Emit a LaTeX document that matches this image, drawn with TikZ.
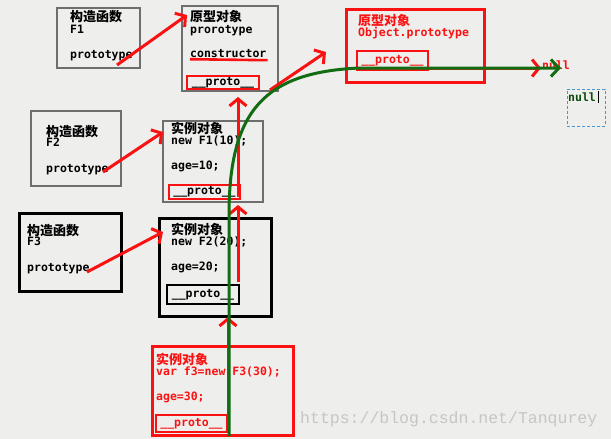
\documentclass[tikz,border=0pt]{standalone}
\usepackage{fontspec}
\setmonofont{DejaVu Sans Mono}
\newfontfamily\cjk{Noto Sans CJK SC}
\newfontfamily\wmfont{Liberation Mono}
\usetikzlibrary{arrows.meta}
\definecolor{bg}{RGB}{238,238,236}
\definecolor{gline}{RGB}{18,108,18}
\definecolor{rline}{RGB}{250,18,18}
\definecolor{wm}{RGB}{198,198,196}
\definecolor{nblue}{RGB}{70,150,215}
\definecolor{gframe}{RGB}{110,110,110}
\tikzset{
  bx/.style n args={2}{anchor=north west, minimum width=#1pt, minimum height=#2pt, inner sep=0pt, outer sep=0pt},
  gbox/.style={draw=gframe, line width=1.3pt},
  kbox/.style={draw=black, line width=3pt},
  rbox/.style={draw=rline, line width=3pt},
  pbox/.style={draw=rline, line width=2.6pt},
  txt/.style={anchor=mid west, inner sep=0pt, font=\ttfamily\bfseries\fontsize{11.5}{12}\selectfont},
  zh/.style={anchor=west, inner sep=0pt, font=\cjk\bfseries\fontsize{13}{14}\selectfont},
  rarr/.style={draw=rline, line width=3pt, -{Straight Barb[length=7pt,width=17pt]}},
  garr/.style={draw=gline, line width=3pt, -{Straight Barb[length=8pt,width=17pt]}}
}
\begin{document}
\begin{tikzpicture}[x=1pt,y=-1pt]
\fill[bg] (0,0) rectangle (611,439);
\useasboundingbox (0,0) rectangle (611,439);

% ---------- boxes ----------
\node[bx={83}{60}, gbox] (c1) at (57,8) {};
\node[bx={96}{85}, gbox] (p1) at (182,6) {};
\node[bx={90}{75}, gbox] (c2) at (31,111) {};
\node[bx={100}{81}, gbox] (i1) at (163,121) {};
\node[bx={102}{78}, kbox] (c3) at (19,213) {};
\node[bx={112}{98}, kbox] (i2) at (159,218) {};
\node[bx={141}{89}, rbox] (i3) at (152,346) {};
\node[bx={138}{73}, rbox] (op) at (346,9) {};
\node[bx={38}{37}, draw=nblue, densely dashed, line width=1pt] (nb) at (567,89) {};

% proto boxes
\node[bx={72}{13}, pbox] (pp1) at (187,76) {};
\node[bx={71}{14}, pbox] (ip1) at (169,185) {};
\node[bx={72}{19}, draw=black, line width=2.6pt] (ip2) at (167,285) {};
\node[bx={71}{17}, pbox] (ip3) at (156,415) {};
\node[bx={71}{19}, pbox] (opp) at (357,51) {};

% ---------- texts ----------
% F1
\node[zh] (c1a) at (70,17) {构造函数};
\node[txt] (c1b) at (70,31) {F1};
\node[txt] (c1c) at (70,56) {prototype};
% prototype object of F1
\node[zh] (p1a) at (190,17) {原型对象};
\node[txt] (p1b) at (190,31) {prorotype};
\node[txt] (p1c) at (190,55) {constructor};
\node[txt, anchor=center] (p1d) at (pp1.center) {\_\_proto\_\_};
% F2
\node[zh] (c2a) at (46,132) {构造函数};
\node[txt] (c2b) at (46,144) {F2};
\node[txt] (c2c) at (46,170) {prototype};
% instance F1
\node[zh] (i1a) at (171,128) {实例对象};
\node[txt] (i1b) at (171,142) {new F1(10);};
\node[txt] (i1c) at (171,167) {age=10;};
\node[txt, anchor=center] (i1d) at (ip1.center) {\_\_proto\_\_};
% F3
\node[zh] (c3a) at (27,231) {构造函数};
\node[txt] (c3b) at (27,243) {F3};
\node[txt] (c3c) at (27,269) {prototype};
% instance F2
\node[zh] (i2a) at (171,229) {实例对象};
\node[txt] (i2b) at (171,243) {new F2(20);};
\node[txt] (i2c) at (171,268) {age=20;};
\node[txt, anchor=center] (i2d) at (ip2.center) {\_\_proto\_\_};
% instance f3
\node[zh, text=rline] (i3a) at (156,359) {实例对象};
\node[txt, text=rline] (i3b) at (156,373) {var f3=new F3(30);};
\node[txt, text=rline] (i3c) at (156,398) {age=30;};
\node[txt, text=rline, anchor=center] (i3d) at (ip3.center) {\_\_proto\_\_};
% Object.prototype
\node[zh, text=rline] (opa) at (358,21) {原型对象};
\node[txt, text=rline] (opb) at (358,34) {Object.prototype};
\node[txt, text=rline, anchor=center] (opc) at (opp.center) {\_\_proto\_\_};
% null labels
\node[txt, text=rline] (nullr) at (542,67) {null};
\node[txt, text=gline!70!black] (nullg) at (568,99) {null};
\draw[black, line width=0.8pt] ([xshift=2pt,yshift=6pt]nullg.east) -- ([xshift=2pt,yshift=-6pt]nullg.east);

% watermark
\node[anchor=mid west, inner sep=0pt, text=wm, font=\wmfont\fontsize{16.5}{18}\selectfont] (wmk) at (300,421) {https://blog.csdn.net/Tanqurey};

% constructor underline
\draw[rline, line width=2.6pt] ([yshift=-6pt]p1c.west) -- ([yshift=-7pt,xshift=1pt]p1c.east);

% ---------- red arrows ----------
\coordinate (a1s) at (117,65);
\coordinate (a1e) at (187,15);
\draw[rarr] (a1s) -- (a1e);
\coordinate (a2s) at (103,172);
\coordinate (a2e) at (163,132);
\draw[rarr] (a2s) -- (a2e);
\coordinate (a3s) at (87,272);
\coordinate (a3e) at (163,232);
\draw[rarr] (a3s) -- (a3e);
\coordinate (a4s) at (238,197);
\coordinate (a4e) at (238,97);
\draw[rarr] (a4s) -- (a4e);
\coordinate (a5s) at (238,282);
\coordinate (a5e) at (238,205);
\draw[rarr] (a5s) -- (a5e);
\coordinate (a6s) at (228,420);
\coordinate (a6e) at (228,317);
\draw[rarr] (a6s) -- (a6e);
\coordinate (a7s) at (270,90);
\coordinate (a7e) at (326,52);
\draw[rarr] (a7s) -- (a7e);
\coordinate (a8s) at (428,68);
\coordinate (a8e) at (541,68);
\draw[rarr] (a8s) -- (a8e);

% ---------- green path ----------
\coordinate (gs) at (229,436);
\coordinate (gm) at (229,215);
\coordinate (gk) at (360,68);
\coordinate (ge) at (561,68);
\draw[garr] (gs) -- (gm) .. controls (229,110) and (265,72) .. (gk) -- (ge);
\end{tikzpicture}
\end{document}
